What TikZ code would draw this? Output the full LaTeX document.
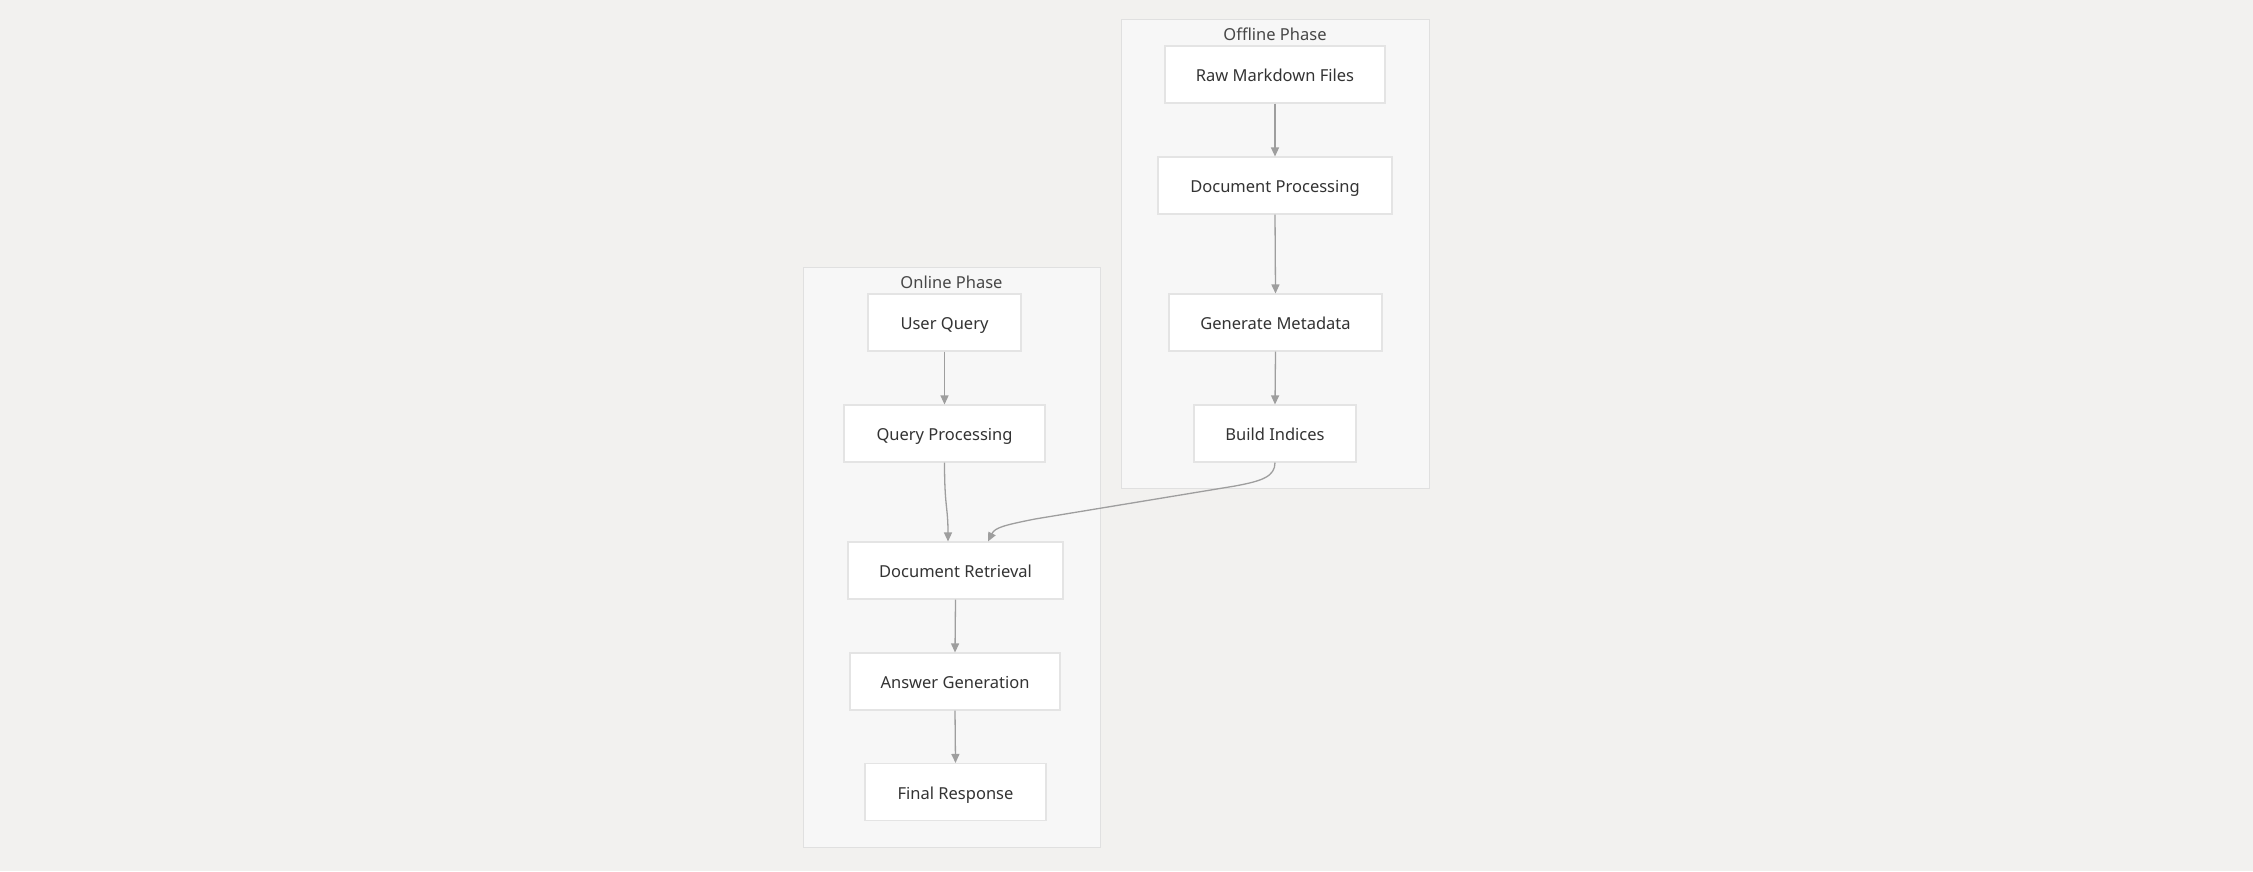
\documentclass[tikz,border=0pt]{standalone}
\usepackage{fontspec}
\setmainfont{Noto Sans}
\usetikzlibrary{arrows.meta}
\definecolor{pagebg}{RGB}{242,241,239}
\definecolor{clusterfill}{RGB}{247,247,247}
\definecolor{clusterline}{RGB}{224,224,224}
\definecolor{boxline}{RGB}{228,228,228}
\definecolor{textcol}{RGB}{51,51,51}
\definecolor{edgecol}{RGB}{158,158,158}
\begin{document}
\begin{tikzpicture}[x=1pt,y=-1pt,
  cluster/.style={draw=clusterline,fill=clusterfill,line width=1pt},
  phase/.style={font=\fontsize{16.5}{19}\selectfont,text=textcol!90,inner sep=0pt,
    text height=14.3pt,text depth=0pt},
  stepbox/.style={draw=boxline,fill=white,line width=1.1pt,rectangle,
    minimum height=57pt,inner sep=0pt,font=\fontsize{16.5}{19}\selectfont,text=textcol,
    text height=14.8pt,text depth=0pt},
  flow/.style={draw=edgecol,line width=1.3pt,-{Triangle[length=9pt,width=8pt]}}]
  % canvas
  \fill[pagebg] (0,0) rectangle (2253,871);
  \useasboundingbox (0,0) rectangle (2253,871);

  % phase containers
  \draw[cluster] (1121,19) rectangle (1429,488);
  \node[phase] (offlbl) at (1275,33) {Offline Phase};
  \draw[cluster] (803,267) rectangle (1100,847);
  \node[phase] (onlbl) at (951.5,281) {Online Phase};

  % offline steps
  \node[stepbox,minimum width=220pt] (raw)   at (1275,74.5)  {Raw Markdown Files};
  \node[stepbox,minimum width=234pt] (dproc) at (1275,185.5) {Document Processing};
  \node[stepbox,minimum width=213pt] (meta)  at (1275.5,322.5) {Generate Metadata};
  \node[stepbox,minimum width=162pt] (build) at (1275,433.5) {Build Indices};

  % online steps
  \node[stepbox,minimum width=153pt] (uq)   at (944.5,322.5) {User Query};
  \node[stepbox,minimum width=201pt] (qp)   at (944.5,433.5) {Query Processing};
  \node[stepbox,minimum width=215pt] (dr)   at (955.5,570.5) {Document Retrieval};
  \node[stepbox,minimum width=210pt] (ag)   at (955,681.5)   {Answer Generation};
  \node[stepbox,minimum width=181pt] (fr)   at (955.5,792)   {Final Response};

  \coordinate (drA) at ([xshift=-7.5pt]dr.north);
  \coordinate (drB) at ([xshift=32.5pt]dr.north);

  % connectors
  \draw[flow] (raw.south) -- (dproc.north);
  \draw[flow] (dproc.south) -- (meta.north);
  \draw[flow] (meta.south) -- (build.north);
  \draw[flow] (uq.south) -- (qp.north);
  \draw[flow] (qp.south) .. controls +(0,45) and +(0,-35) .. (drA);
  \draw[flow] (build.south) .. controls +(0,14) and +(27,-5) .. (1235,486)
     -- (1035,519) .. controls +(-30,6) and +(7,-14) .. (drB);
  \draw[flow] (dr.south) -- (ag.north);
  \draw[flow] (ag.south) -- (fr.north);
\end{tikzpicture}
\end{document}
